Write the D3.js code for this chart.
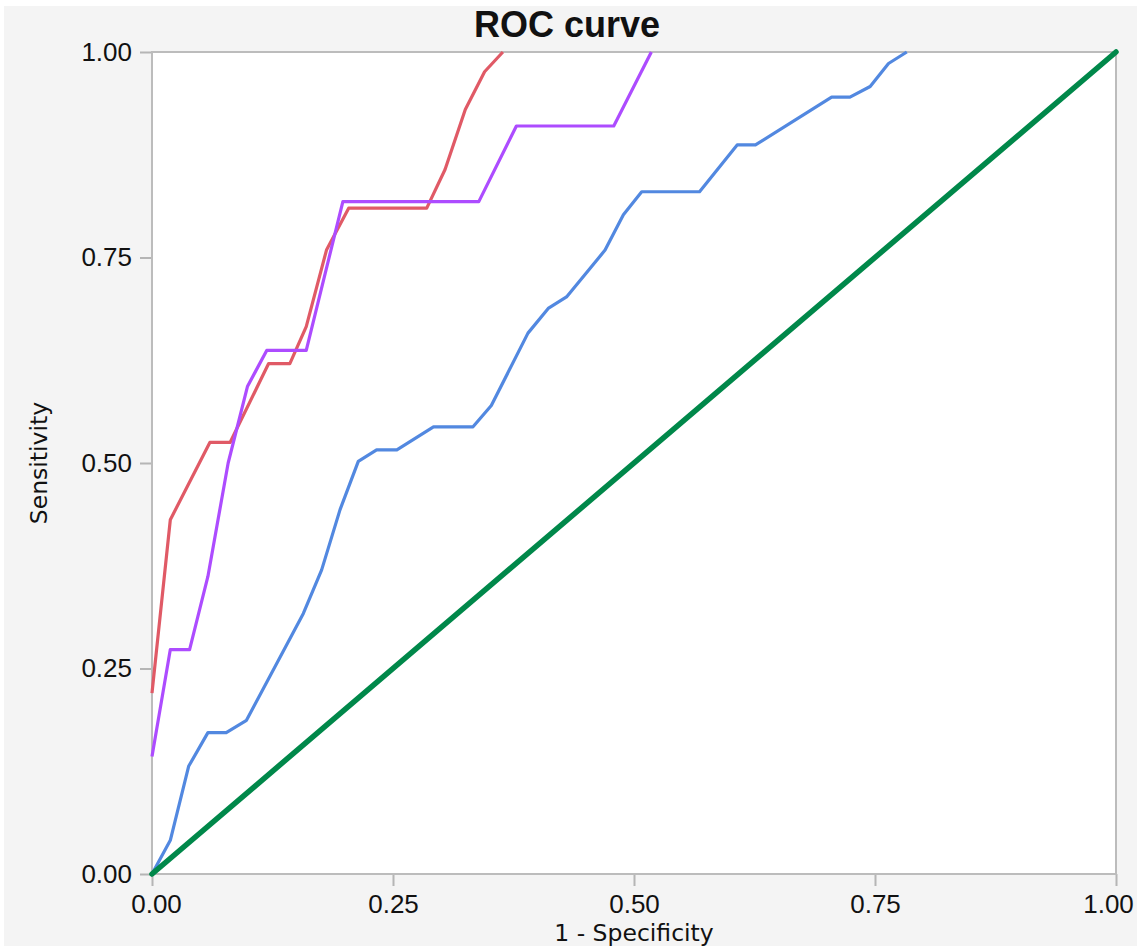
<!DOCTYPE html>
<html>
<head>
<meta charset="utf-8">
<script src="https://cdn.jsdelivr.net/npm/d3@7"></script>
<style>
  html, body { margin: 0; padding: 0; background: #ffffff; }
  svg { display: block; }
</style>
</head>
<body>
<svg id="chart" width="1140" height="949"></svg>
<script>
// ROC curves: [1 - specificity, sensitivity] pairs for each model
const redCurve = [
  [0, 0.22], [0.019, 0.431], [0.060, 0.525], [0.081, 0.525], [0.121, 0.621],
  [0.143, 0.621], [0.160, 0.666], [0.181, 0.759], [0.204, 0.810], [0.285, 0.810],
  [0.304, 0.857], [0.325, 0.930], [0.345, 0.976], [0.364, 1.0]
];
const purpleCurve = [
  [0, 0.143], [0.019, 0.273], [0.039, 0.273], [0.058, 0.362], [0.079, 0.500],
  [0.099, 0.593], [0.119, 0.637], [0.160, 0.637], [0.198, 0.818], [0.339, 0.818],
  [0.378, 0.910], [0.479, 0.910], [0.518, 1.0]
];
const blueCurve = [
  [0, 0], [0.019, 0.041], [0.038, 0.131], [0.058, 0.172], [0.077, 0.172],
  [0.098, 0.187], [0.157, 0.317], [0.176, 0.370], [0.195, 0.443], [0.214, 0.502],
  [0.233, 0.516], [0.254, 0.516], [0.292, 0.544], [0.333, 0.544], [0.352, 0.570],
  [0.390, 0.658], [0.411, 0.688], [0.430, 0.702], [0.470, 0.759], [0.489, 0.802],
  [0.508, 0.830], [0.568, 0.830], [0.607, 0.887], [0.626, 0.887], [0.705, 0.945],
  [0.724, 0.945], [0.745, 0.958], [0.764, 0.986], [0.783, 1.0]
];
const referenceLine = [[0, 0], [1, 1]];

const tickValues = [0, 0.25, 0.5, 0.75, 1];
const seriesColors = ["#e05a66", "#ad4cff", "#5288e0", "#00884a"];

const svg = d3.select("#chart");
const margin = { left: 152, top: 52, right: 1116, bottom: 874 };

const x = d3.scaleLinear().domain([0, 1]).range([margin.left, margin.right]);
const y = d3.scaleLinear().domain([0, 1]).range([margin.bottom, margin.top]);

// grey panel behind everything
svg.append("rect")
  .attr("x", 4).attr("y", 6).attr("width", 1133).attr("height", 940)
  .attr("fill", "#f4f4f4");

// white plotting area
svg.append("rect")
  .attr("x", x(0)).attr("y", y(1))
  .attr("width", x(1) - x(0)).attr("height", y(0) - y(1))
  .attr("fill", "#ffffff");

const fmt = d3.format(".2f");

// y axis
const yAxis = svg.append("g")
  .attr("transform", `translate(${x(0)},0)`)
  .call(d3.axisLeft(y).tickValues(tickValues).tickFormat(fmt).tickSize(12).tickPadding(8));

// x axis
const xAxis = svg.append("g")
  .attr("transform", `translate(0,${y(0)})`)
  .call(d3.axisBottom(x).tickValues(tickValues).tickFormat(fmt).tickSize(12).tickPadding(9));

[yAxis, xAxis].forEach(g => {
  g.select(".domain").remove();
  g.selectAll(".tick line").attr("stroke", "#b5b5b5").attr("stroke-width", 2);
  g.selectAll(".tick text")
    .attr("fill", "#111")
    .style("font-family", "'Liberation Sans', Arial, sans-serif")
    .style("font-size", "26px");
});
// keep the end labels inside the panel
xAxis.selectAll(".tick text").attr("dx", d => d === 0 ? 4 : d === 1 ? -8 : 0);

// frame around the plotting area
svg.append("rect")
  .attr("x", x(0)).attr("y", y(1))
  .attr("width", x(1) - x(0)).attr("height", y(0) - y(1))
  .attr("fill", "none")
  .attr("stroke", "#bcbcbc")
  .attr("stroke-width", 2);

const line = d3.line().x(d => x(d[0])).y(d => y(d[1]));

const curves = [redCurve, purpleCurve, blueCurve];
const plot = svg.append("g");
plot.selectAll("path.roc")
  .data(curves)
  .join("path")
  .attr("class", "roc")
  .attr("d", line)
  .attr("fill", "none")
  .attr("stroke", (d, i) => seriesColors[i])
  .attr("stroke-width", 3.2)
  .attr("stroke-linejoin", "round");

// chance diagonal
plot.append("path")
  .attr("d", line(referenceLine))
  .attr("fill", "none")
  .attr("stroke", seriesColors[3])
  .attr("stroke-width", 5.5)
  .attr("stroke-linecap", "round");

// titles
svg.append("text")
  .attr("x", 567).attr("y", 37)
  .attr("text-anchor", "middle")
  .style("font-family", "'Liberation Sans', Arial, sans-serif")
  .style("font-weight", "bold")
  .style("font-size", "36px")
  .attr("fill", "#111")
  .text("ROC curve");

svg.append("text")
  .attr("x", (x(0) + x(1)) / 2).attr("y", 941)
  .attr("text-anchor", "middle")
  .style("font-family", "'DejaVu Sans', sans-serif")
  .style("font-size", "23.5px")
  .attr("fill", "#111")
  .text("1 - Specificity");

svg.append("text")
  .attr("transform", `translate(47,${(y(0) + y(1)) / 2}) rotate(-90)`)
  .attr("text-anchor", "middle")
  .style("font-family", "'DejaVu Sans', sans-serif")
  .style("font-size", "23.5px")
  .attr("fill", "#111")
  .text("Sensitivity");
</script>
</body>
</html>
